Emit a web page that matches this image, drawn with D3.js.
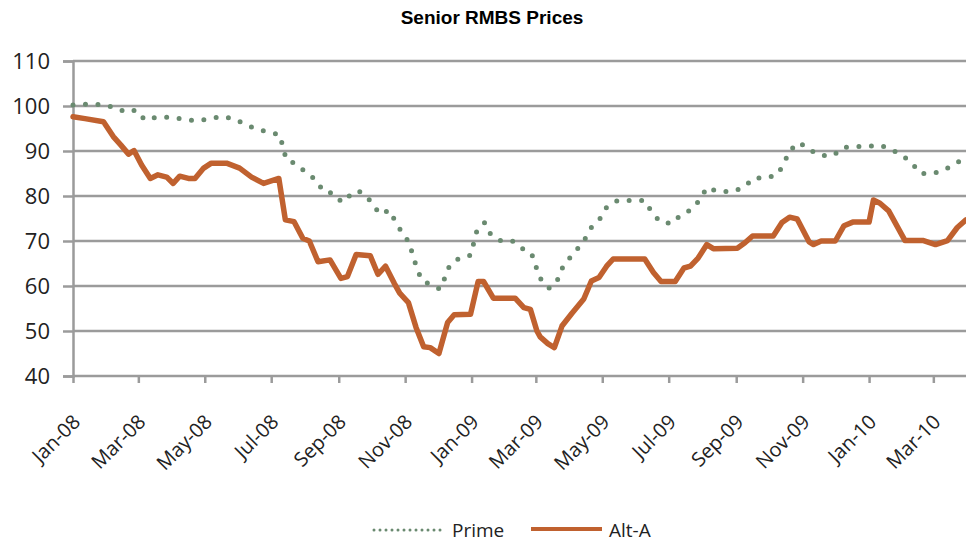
<!DOCTYPE html>
<html>
<head>
<meta charset="utf-8">
<script src="https://cdn.jsdelivr.net/npm/d3@7"></script>
<style>
  html, body { margin: 0; padding: 0; background: #fff; }
  svg { display: block; }
  .title { font-family: "Liberation Sans", Arial, sans-serif; font-weight: bold; font-size: 19px; fill: #000; }
  .tick text, .legend text { font-family: "Open Sans", "Lato", sans-serif; fill: #222; }
</style>
</head>
<body>
<svg id="chart" width="966" height="542"></svg>
<script>
// Weekly price observations (approximate turning points), Jan 2008 – Mar 2010
const altADates = [
  "2008-01-01","2008-01-12","2008-01-29","2008-02-07","2008-02-14","2008-02-21","2008-02-26",
  "2008-03-04","2008-03-12","2008-03-19","2008-03-27","2008-04-02","2008-04-08","2008-04-16",
  "2008-04-22","2008-04-30","2008-05-07","2008-05-21","2008-06-02","2008-06-13","2008-06-24",
  "2008-07-08","2008-07-14","2008-07-22","2008-07-30","2008-08-05","2008-08-13","2008-08-24",
  "2008-09-03","2008-09-09","2008-09-17","2008-09-30","2008-10-07","2008-10-14","2008-10-22",
  "2008-10-27","2008-11-04","2008-11-11","2008-11-18","2008-11-24","2008-12-02","2008-12-10",
  "2008-12-16","2008-12-31","2009-01-07","2009-01-12","2009-01-21","2009-02-10","2009-02-18",
  "2009-02-24","2009-03-02","2009-03-05","2009-03-12","2009-03-18","2009-03-25","2009-04-03",
  "2009-04-14","2009-04-21","2009-04-28","2009-05-05","2009-05-11","2009-06-09","2009-06-17",
  "2009-06-24","2009-07-07","2009-07-15","2009-07-21","2009-07-28","2009-08-05","2009-08-11",
  "2009-09-02","2009-09-09","2009-09-16","2009-10-05","2009-10-13","2009-10-20","2009-10-27",
  "2009-11-07","2009-11-11","2009-11-18","2009-12-01","2009-12-09","2009-12-17","2010-01-01",
  "2010-01-05","2010-01-11","2010-01-19","2010-02-03","2010-02-20","2010-03-03","2010-03-14",
  "2010-03-23","2010-03-31"
];
const altAValues = [
  97.6, 97.2, 96.5, 93.2, 91.3, 89.3, 90.1,
  86.9, 83.9, 84.7, 84.2, 82.8, 84.4, 83.9,
  83.9, 86.2, 87.3, 87.3, 86.2, 84.2, 82.8,
  83.9, 74.7, 74.3, 70.6, 70.0, 65.4, 65.8,
  61.7, 62.1, 67.0, 66.7, 62.6, 64.4, 60.6,
  58.4, 56.3, 50.8, 46.5, 46.3, 45.0, 51.9,
  53.6, 53.7, 61.0, 61.0, 57.3, 57.3, 55.2,
  54.8, 50.0, 48.7, 47.2, 46.3, 51.1, 53.9,
  57.1, 61.1, 61.9, 64.4, 66.0, 66.0, 63.0,
  61.0, 61.0, 64.0, 64.4, 66.2, 69.2, 68.3,
  68.4, 69.6, 71.1, 71.1, 74.1, 75.3, 74.9,
  69.8, 69.2, 70.0, 70.0, 73.4, 74.2, 74.2,
  79.1, 78.4, 76.7, 70.1, 70.1, 69.2, 70.1,
  73.0, 74.7
];

const primeDates = [
  "2008-01-01","2008-01-14","2008-01-26","2008-02-07","2008-02-19","2008-02-28","2008-03-07",
  "2008-03-18","2008-03-30","2008-04-11","2008-04-23","2008-05-05","2008-05-17","2008-05-29",
  "2008-06-08","2008-06-19","2008-06-30","2008-07-09","2008-07-12","2008-07-15","2008-07-24",
  "2008-08-02","2008-08-11","2008-08-18","2008-08-27","2008-09-04","2008-09-13","2008-09-19",
  "2008-09-28","2008-10-04","2008-10-10","2008-10-17","2008-10-23","2008-10-29","2008-11-05",
  "2008-11-08","2008-11-12","2008-11-16","2008-11-25","2008-12-03","2008-12-08","2008-12-12",
  "2008-12-21","2008-12-31","2009-01-03","2009-01-06","2009-01-13","2009-01-18","2009-01-27",
  "2009-02-07","2009-02-16","2009-02-25","2009-03-01","2009-03-05","2009-03-13","2009-03-20",
  "2009-03-24","2009-03-31","2009-04-08","2009-04-15","2009-04-21","2009-04-29","2009-05-05",
  "2009-05-15","2009-06-09","2009-06-15","2009-06-23","2009-07-04","2009-07-12","2009-07-22",
  "2009-07-30","2009-08-05","2009-08-15","2009-08-28","2009-09-08","2009-09-17","2009-09-29",
  "2009-10-09","2009-10-15","2009-10-20","2009-10-29","2009-11-07","2009-11-17","2009-11-29",
  "2009-12-08","2009-12-19","2009-12-31","2010-01-11","2010-01-21","2010-01-31","2010-02-09",
  "2010-02-17","2010-03-01","2010-03-12","2010-03-22","2010-03-31"
];
const primeValues = [
  100.2, 100.4, 100.3, 99.8, 98.6, 99.1, 96.9,
  97.5, 97.5, 97.1, 96.7, 97.1, 97.7, 97.1,
  95.8, 94.8, 94.1, 93.6, 90.6, 88.0, 87.1,
  85.2, 83.6, 81.0, 80.6, 78.6, 80.5, 81.2,
  79.5, 77.4, 75.9, 76.9, 74.4, 71.9, 69.6,
  66.7, 63.9, 61.3, 60.2, 59.3, 62.1, 64.7,
  66.2, 66.8, 69.6, 72.4, 74.1, 71.7, 70.1,
  70.1, 68.4, 67.3, 64.4, 61.7, 59.5, 60.7,
  63.5, 65.9, 68.2, 70.4, 73.0, 75.0, 77.5,
  79.0, 79.0, 76.6, 74.3, 73.9, 75.8, 77.0,
  79.3, 81.9, 81.0, 81.0, 81.9, 84.0, 84.0,
  84.8, 87.3, 90.1, 91.9, 90.3, 89.0, 89.0,
  90.8, 91.0, 91.0, 91.3, 90.4, 89.1, 87.4,
  85.0, 85.0, 85.9, 87.4, 88.2
];

const yTicks = [40, 50, 60, 70, 80, 90, 100, 110];
const xTickDates = [
  "2008-01-01","2008-03-01","2008-05-01","2008-07-01","2008-09-01","2008-11-01",
  "2009-01-01","2009-03-01","2009-05-01","2009-07-01","2009-09-01","2009-11-01",
  "2010-01-01","2010-03-01"
];
const seriesNames = ["Prime", "Alt-A"];
const titleText = "Senior RMBS Prices";

const parse = d3.utcParse("%Y-%m-%d");
const fmt = d3.utcFormat("%b-%y");

const svg = d3.select("#chart");
const plotLeft = 73, plotRight = 966, plotTop = 61, plotBottom = 376;

const x = d3.scaleUtc()
  .domain([parse("2008-01-01"), parse("2010-03-31")])
  .range([plotLeft, plotRight]);
const y = d3.scaleLinear().domain([40, 110]).range([plotBottom, plotTop]);

const gridColor = "#9b9b9b";

// title
svg.append("text").attr("class", "title")
  .attr("x", 492).attr("y", 24).attr("text-anchor", "middle")
  .text(titleText);

// horizontal gridlines
svg.append("g")
  .selectAll("line")
  .data(yTicks.filter(v => v > 40))
  .join("line")
  .attr("x1", plotLeft).attr("x2", plotRight)
  .attr("y1", d => y(d)).attr("y2", d => y(d))
  .attr("stroke", gridColor).attr("stroke-width", 2.5);

// y axis
const yAxis = svg.append("g")
  .attr("transform", `translate(${plotLeft},0)`)
  .call(d3.axisLeft(y).tickValues(yTicks).tickSize(10).tickPadding(13));
yAxis.select(".domain").attr("stroke", gridColor).attr("stroke-width", 2.5);
yAxis.selectAll(".tick line").attr("stroke", gridColor).attr("stroke-width", 2.5);
yAxis.selectAll(".tick text").style("font-size", "22px").attr("fill", "#222");

// x axis
const xAxis = svg.append("g")
  .attr("transform", `translate(0,${plotBottom})`)
  .call(d3.axisBottom(x).tickValues(xTickDates.map(parse)).tickFormat(fmt).tickSize(7).tickSizeOuter(0));
xAxis.select(".domain").attr("stroke", gridColor).attr("stroke-width", 2.5)
  .attr("d", `M${plotLeft},0H${plotRight}`);
xAxis.selectAll(".tick line").attr("stroke", gridColor).attr("stroke-width", 2.5);
xAxis.selectAll(".tick text")
  .style("font-size", "20px").attr("fill", "#222")
  .attr("text-anchor", "end")
  .attr("transform", "translate(-2,37) rotate(-45)")
  .attr("y", 0).attr("dy", "0.71em");

const line = d3.line().x(d => x(d[0])).y(d => y(d[1]));

const primeData = primeDates.map((d, i) => [parse(d), primeValues[i]]);
const altAData = altADates.map((d, i) => [parse(d), altAValues[i]]);

const primeColor = "#6a8a70";
const altColor = "#c0612f";

svg.append("defs").append("clipPath").attr("id", "plotClip")
  .append("rect").attr("x", plotLeft - 5).attr("y", 0).attr("width", plotRight - plotLeft + 5).attr("height", 542);

const plot = svg.append("g").attr("clip-path", "url(#plotClip)");

plot.append("path").datum(altAData)
  .attr("d", line).attr("fill", "none")
  .attr("stroke", altColor).attr("stroke-width", 5.5)
  .attr("stroke-linejoin", "round").attr("stroke-linecap", "round");

plot.append("path").datum(primeData)
  .attr("d", line).attr("fill", "none")
  .attr("stroke", primeColor).attr("stroke-width", 5)
  .attr("stroke-dasharray", "0,12.5").attr("stroke-linecap", "round");

// legend
const legend = svg.append("g").attr("class", "legend");
legend.append("line")
  .attr("x1", 374).attr("x2", 446).attr("y1", 530).attr("y2", 530)
  .attr("stroke", primeColor).attr("stroke-width", 3)
  .attr("stroke-dasharray", "0,6").attr("stroke-linecap", "round");
legend.append("text").attr("x", 452).attr("y", 537).style("font-size", "19px").text(seriesNames[0]);
legend.append("line")
  .attr("x1", 531).attr("x2", 602).attr("y1", 529).attr("y2", 529)
  .attr("stroke", altColor).attr("stroke-width", 4);
legend.append("text").attr("x", 609).attr("y", 537).style("font-size", "19px").text(seriesNames[1]);
</script>
</body>
</html>
